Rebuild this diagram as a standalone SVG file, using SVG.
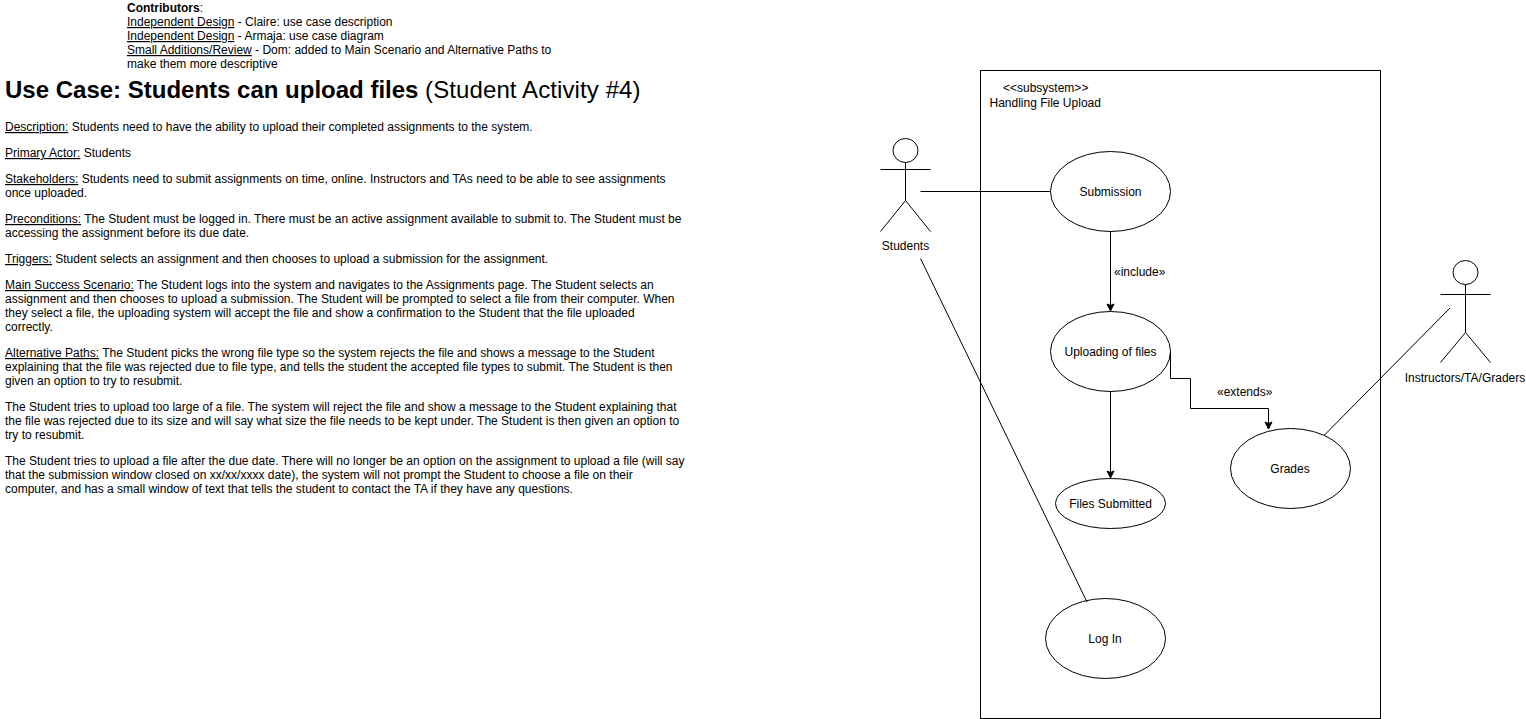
<svg xmlns="http://www.w3.org/2000/svg" width="1526" height="719" viewBox="0 0 1526 719">
<style>
text{font-family:"Liberation Sans",Arial,sans-serif;font-size:12px;fill:#000}
.u{text-decoration:underline}
.c{text-anchor:middle}
.h{font-size:24px}
.s{fill:#fff;stroke:#000;stroke-width:1}
.l{fill:none;stroke:#000;stroke-width:1}
.a{fill:none;stroke:#000;stroke-width:1;marker-end:url(#arrow)}
</style>
<defs>
<marker id="arrow" markerUnits="userSpaceOnUse" markerWidth="12" markerHeight="12" refX="8" refY="5" orient="auto"><path d="M1 1.500L8 5L1 8.500L2.500 5Z" fill="#000" stroke="#000"/></marker>
</defs>
<rect id="background" width="1526" height="719" fill="#fff"/>
<g id="contributors">
<text x="127" y="12"><tspan font-weight="bold">Contributors</tspan>:</text>
<text x="127" y="26"><tspan class="u">Independent Design</tspan> - Claire: use case description</text>
<text x="127" y="40"><tspan class="u">Independent Design</tspan> - Armaja: use case diagram</text>
<text x="127" y="54"><tspan class="u">Small Additions/Review</tspan> - Dom: added to Main Scenario and Alternative Paths to</text>
<text x="127" y="68">make them more descriptive</text>
</g>
<g id="description">
<text class="h" x="5" y="98"><tspan font-weight="bold">Use Case: Students can upload files</tspan> <tspan letter-spacing="0.1">(Student Activity #4)</tspan></text>
<text x="5" y="131"><tspan class="u">Description:</tspan> Students need to have the ability to upload their completed assignments to the system.</text>
<text x="5" y="157"><tspan class="u">Primary Actor:</tspan> Students</text>
<text x="5" y="183"><tspan class="u">Stakeholders:</tspan> Students need to submit assignments on time, online. Instructors and TAs need to be able to see assignments</text>
<text x="5" y="197">once uploaded.</text>
<text x="5" y="223"><tspan class="u">Preconditions:</tspan> The Student must be logged in. There must be an active assignment available to submit to. The Student must be</text>
<text x="5" y="237">accessing the assignment before its due date.</text>
<text x="5" y="263"><tspan class="u">Triggers:</tspan> Student selects an assignment and then chooses to upload a submission for the assignment.</text>
<text x="5" y="289"><tspan class="u">Main Success Scenario:</tspan> The Student logs into the system and navigates to the Assignments page. The Student selects an</text>
<text x="5" y="303">assignment and then chooses to upload a submission. The Student will be prompted to select a file from their computer. When</text>
<text x="5" y="317">they select a file, the uploading system will accept the file and show a confirmation to the Student that the file uploaded</text>
<text x="5" y="331">correctly.</text>
<text x="5" y="357"><tspan class="u">Alternative Paths:</tspan> The Student picks the wrong file type so the system rejects the file and shows a message to the Student</text>
<text x="5" y="371">explaining that the file was rejected due to file type, and tells the student the accepted file types to submit. The Student is then</text>
<text x="5" y="385">given an option to try to resubmit.</text>
<text x="5" y="411">The Student tries to upload too large of a file. The system will reject the file and show a message to the Student explaining that</text>
<text x="5" y="425">the file was rejected due to its size and will say what size the file needs to be kept under. The Student is then given an option to</text>
<text x="5" y="439">try to resubmit.</text>
<text x="5" y="465">The Student tries to upload a file after the due date. There will no longer be an option on the assignment to upload a file (will say</text>
<text x="5" y="479">that the submission window closed on xx/xx/xxxx date), the system will not prompt the Student to choose a file on their</text>
<text x="5" y="493">computer, and has a small window of text that tells the student to contact the TA if they have any questions.</text>
</g>
<g id="subsystem">
<rect class="s" x="980.5" y="70.5" width="400" height="648"/>
<text x="1003" y="92">&lt;&lt;subsystem&gt;&gt;</text>
<text x="989.500" y="107">Handling File Upload</text>
</g>
<g id="actor-students">
<ellipse class="s" cx="905.500" cy="150.500" rx="12.500" ry="12"/>
<path class="l" d="M905.500 162.500V200.500M880.500 169.500H930.500M905.500 200.500L880.500 231.500M905.500 200.500L930.500 231.500"/>
<text class="c" x="905.500" y="250">Students</text>
</g>
<g id="actor-instructors">
<ellipse class="s" cx="1465.500" cy="272.500" rx="12.500" ry="12"/>
<path class="l" d="M1465.500 284.500V332.500M1440.500 294.500H1490.500M1465.500 332.500L1440.500 362.500M1465.500 332.500L1490.500 362.500"/>
<text class="c" x="1465" y="382">Instructors/TA/Graders</text>
</g>
<g id="uc-submission"><ellipse class="s" cx="1110.500" cy="191.500" rx="60" ry="40"/><text class="c" x="1110.500" y="196">Submission</text></g>
<g id="uc-uploading"><ellipse class="s" cx="1110.500" cy="351.500" rx="60" ry="40"/><text class="c" x="1110.500" y="356">Uploading of files</text></g>
<g id="uc-files-submitted"><ellipse class="s" cx="1110.500" cy="503.500" rx="55" ry="25"/><text class="c" x="1110.500" y="508">Files Submitted</text></g>
<g id="uc-grades"><ellipse class="s" cx="1290.500" cy="468.500" rx="60" ry="40"/><text class="c" x="1290" y="473">Grades</text></g>
<g id="uc-login"><ellipse class="s" cx="1105.500" cy="638.500" rx="60" ry="40"/><text class="c" x="1105" y="643">Log In</text></g>
<g id="connectors">
<path class="l" d="M920.500 191.500H1050.500"/>
<path class="l" d="M920.500 258.500L1087 602"/>
<path class="l" d="M1450 308L1324.500 435"/>
<path class="a" d="M1110.500 231.500V311"/>
<path class="a" d="M1110.500 391.500V478"/>
<path class="a" d="M1170.500 351.500V378.500H1190.500V408.500H1268.500V429"/>
<text x="1114" y="276">«include»</text>
<text x="1217" y="396">«extends»</text>
</g>
</svg>
